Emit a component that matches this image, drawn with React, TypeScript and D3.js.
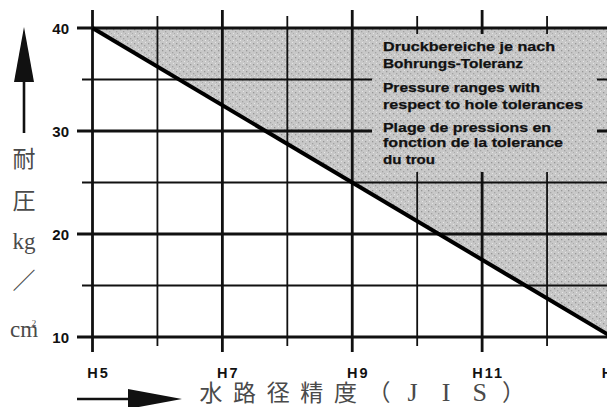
import React from "react";
import * as d3 from "d3";

// ---- data ----
const holeGrades = [5, 6, 7, 8, 9, 10, 11, 12, 13];
const labeledGrades = [5, 7, 9, 11, 13];
const gradeLabels = ["H5", "H7", "H9", "H11", "H13"];
const pressureTicks = [10, 15, 20, 25, 30, 35, 40];
const labeledPressures = [10, 20, 30, 40];
const pressureLabels = ["10", "20", "30", "40"];
const boundaryGrades = [5, 13];
const boundaryPressures = [40, 10];
const legendLines = [
  "Druckbereiche je nach",
  "Bohrungs-Toleranz",
  "Pressure ranges with",
  "respect to hole tolerances",
  "Plage de pressions en",
  "fonction de la tolerance",
  "du trou",
];
const yTitleParts = ["耐", "圧", "kg", "／", "cm"];
const xTitleChars = ["水", "路", "径", "精", "度", "（", "J", "I", "S", "）"];

// ---- layout (styles) ----
const W = 607;
const H = 407;
const legendBaselines = [51, 68, 92, 109, 132, 147, 164];
const legendLengths = [172, 140, 157, 200, 168, 180, 52];
const yTitleCenters = [158, 200, 243, 280, 331];

const x = d3.scaleLinear().domain([5, 13]).range([92.5, 612]);
const y = d3.scaleLinear().domain([10, 40]).range([337, 28]);

const boundary = boundaryGrades.map((g, i) => ({ g, p: boundaryPressures[i] }));

export default function App() {
  const areaPath = d3
    .area<{ g: number; p: number }>()
    .x((d) => x(d.g))
    .y0(() => y(40))
    .y1((d) => y(d.p))(boundary) as string;
  const linePath = d3
    .line<{ g: number; p: number }>()
    .x((d) => x(d.g))
    .y((d) => y(d.p))(boundary) as string;

  const isMajorP = (p: number) => labeledPressures.includes(p);
  const isMajorG = (g: number) => labeledGrades.includes(g);

  return (
    <div style={{ position: "absolute", left: 0, top: 0 }}>
      <svg width={W} height={H} style={{ display: "block", background: "#fff" }}>
        <defs>
          <pattern id="stipple" width="7" height="7" patternUnits="userSpaceOnUse">
            <rect width="7" height="7" fill="#c8c8c8" />
            <rect x="1" y="1" width="1.3" height="1.3" fill="#969696" />
            <rect x="4" y="3" width="1.3" height="1.3" fill="#a2a2a2" />
            <rect x="2" y="5" width="1" height="1" fill="#e6e6e6" />
            <rect x="5" y="0" width="1" height="1" fill="#e4e4e4" />
            <rect x="6" y="5" width="1" height="1" fill="#aaaaaa" />
          </pattern>
        </defs>

        {/* shaded area */}
        <path d={areaPath} fill="url(#stipple)" />

        {/* horizontal grid */}
        {pressureTicks.map((p) => (
          <line
            key={"h" + p}
            x1={isMajorP(p) ? 77 : 82}
            x2={W}
            y1={y(p)}
            y2={y(p)}
            stroke="#111"
            strokeWidth={isMajorP(p) ? 2.8 : 1.8}
          />
        ))}
        {/* vertical grid */}
        {holeGrades.map((g) => (
          <line
            key={"v" + g}
            x1={x(g)}
            x2={x(g)}
            y1={isMajorG(g) ? 10 : 16}
            y2={isMajorG(g) ? 352 : 346}
            stroke="#111"
            strokeWidth={isMajorG(g) ? 2.8 : 1.8}
          />
        ))}

        {/* legend panel */}
        <rect x={372} y={34} width={225} height={138} fill="url(#stipple)" />
        {legendLines.map((t, i) => (
          <text
            key={t}
            x={383}
            y={legendBaselines[i]}
            fontFamily="Liberation Sans, Arial, sans-serif"
            fontWeight={700}
            fontSize={12}
            fill="#111"
            stroke="#111"
            strokeWidth={0.25}
            textLength={legendLengths[i]}
            lengthAdjust="spacingAndGlyphs"
          >
            {t}
          </text>
        ))}

        {/* pressure boundary line */}
        <path d={linePath} fill="none" stroke="#000" strokeWidth={4} />

        {/* y tick labels */}
        {labeledPressures.map((p, i) => (
          <text
            key={"yl" + p}
            x={69}
            y={y(p) + 5.5}
            textAnchor="end"
            fontFamily="Liberation Sans, Arial, sans-serif"
            fontWeight={700}
            fontSize={15}
            fill="#111"
          >
            {pressureLabels[i]}
          </text>
        ))}
        {/* x tick labels */}
        {labeledGrades.map((g, i) => (
          <text
            key={"xl" + g}
            x={x(g) + 6}
            y={378}
            textAnchor="middle"
            fontFamily="Liberation Sans, Arial, sans-serif"
            fontWeight={700}
            fontSize={14.5}
            letterSpacing={2}
            fill="#111"
          >
            {gradeLabels[i]}
          </text>
        ))}

        {/* y title */}
        <line x1={24} x2={24} y1={78} y2={133} stroke="#111" strokeWidth={2.6} />
        <path d="M24,27 L14,82 L34,82 Z" fill="#111" />
        {yTitleParts.map((t, i) => {
          const cjk = /[\u3000-\uffff]/.test(t);
          return (
            <text
              key={"yt" + i}
              x={24}
              y={yTitleCenters[i] + (cjk ? 8.5 : 6)}
              textAnchor="middle"
              fontFamily={cjk ? "Noto Sans CJK JP" : "Liberation Serif, DejaVu Serif, serif"}
              fontWeight={400}
              fontSize={cjk ? 23 : 23}
              fill="#4a4a4a"
            >
              {t}
            </text>
          );
        })}
        <text
          x={34}
          y={yTitleCenters[4] - 5}
          textAnchor="middle"
          fontFamily="Liberation Serif, DejaVu Serif, serif"
          fontSize={9}
          fill="#4a4a4a"
        >
          2
        </text>

        {/* x title */}
        <line x1={77} x2={135} y1={399} y2={399} stroke="#111" strokeWidth={2.6} />
        <path d="M182,399 L128,389 L128,409 Z" fill="#111" />
        {xTitleChars.map((c, i) => {
          const cjk = /[\u3000-\uffff]/.test(c);
          return (
            <text
              key={"xt" + i}
              x={211 + i * 33.6}
              y={401}
              textAnchor="middle"
              fontFamily={cjk ? "Noto Sans CJK JP" : "Liberation Serif, DejaVu Serif, serif"}
              fontWeight={400}
              fontSize={cjk ? 23 : 26}
              fill="#4a4a4a"
            >
              {c}
            </text>
          );
        })}
      </svg>
    </div>
  );
}
